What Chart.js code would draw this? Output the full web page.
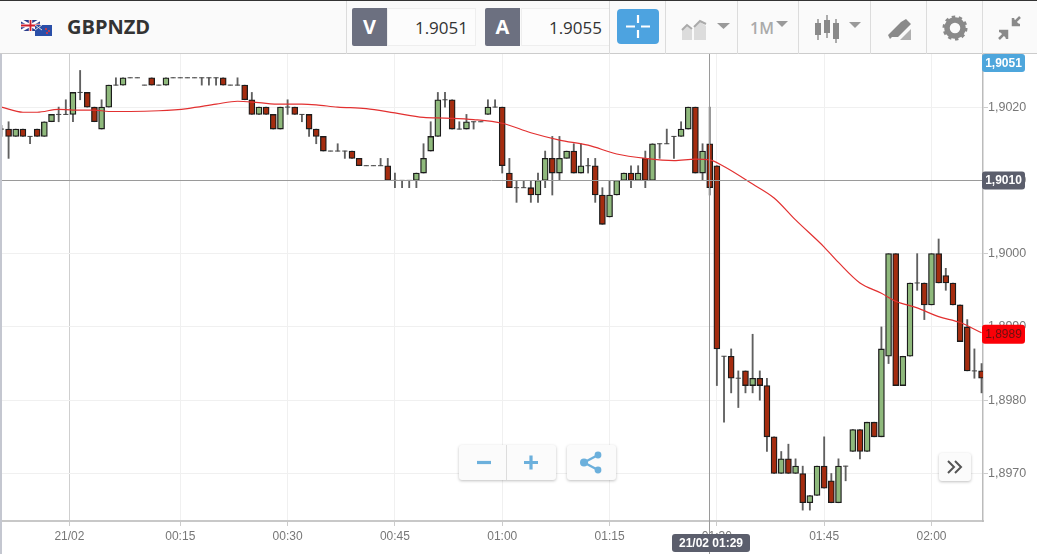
<!DOCTYPE html>
<html><head><meta charset="utf-8">
<script src="https://cdn.jsdelivr.net/npm/chart.js@4"></script>
<style>
html,body{margin:0;padding:0;background:#fff;width:1037px;height:554px;overflow:hidden;font-family:"Open Sans",sans-serif}
#c{position:absolute;left:0;top:0}
#bar{position:absolute;left:0;top:0;width:1037px;background:#fafafa;border-top:1px solid #333;border-bottom:1px solid #ccc;box-sizing:border-box;height:54px}
.sep{position:absolute;top:0;width:1px;height:53px;background:#dcdcdc}
.abs{position:absolute}
.sq{position:absolute;top:7px;width:35px;height:38px;background:#6c7080;color:#fff;font-weight:700;font-size:20px;line-height:38px;text-align:center;border-radius:2px 0 0 2px}
.val{position:absolute;top:7px;height:38px;line-height:38px;background:#fcfcfc;border:1px solid #eee;box-sizing:border-box;text-align:right;padding-right:7px;font-size:17px;color:#333}
.btn{position:absolute;background:#fbfbfb;border-radius:3px;box-shadow:0 1px 3px rgba(0,0,0,.25)}
#edge{position:absolute;left:0;top:54px;width:2px;height:500px;background:#c4c7d0}
</style></head><body>
<canvas id="c" width="1037" height="554"></canvas>
<div id="edge"></div>
<div id="bar">
  <svg class="abs" style="left:21px;top:18px" width="32" height="18" viewBox="0 0 32 18">
    <rect x="0" y="1" width="19" height="11" fill="#2c3e8c"/><path d="M0 1L19 12M19 1L0 12" stroke="#fff" stroke-width="2.4"/><path d="M9.5 1V12M0 6.5H19" stroke="#fff" stroke-width="3.4"/><path d="M9.5 1V12M0 6.5H19" stroke="#d0202c" stroke-width="1.8"/>
    <rect x="14" y="6" width="17" height="11" fill="#2a4fa8"/><circle cx="25" cy="10" r="1" fill="#e33"/><circle cx="28" cy="12" r="1" fill="#e33"/><circle cx="26" cy="14" r="1" fill="#e33"/><path d="M14 6L21 11M21 6L14 11" stroke="#ddd" stroke-width="1"/>
  </svg>
  <div class="abs" style="left:67px;top:12px;font-weight:700;font-size:20px;line-height:28px;color:#333;letter-spacing:0">GBPNZD</div>
  <div class="sep" style="left:346px"></div>
  <div class="sq" style="left:352px">V</div><div class="val" style="left:387px;width:89px">1.9051</div>
  <div class="sq" style="left:485px">A</div><div class="val" style="left:521px;width:89px">1.9055</div>
  <div class="sep" style="left:609px"></div>
  <div class="abs" style="left:617px;top:8px;width:42px;height:35px;background:#4da3e0;border-radius:4px"></div>
  <svg class="abs" style="left:617px;top:8px" width="42" height="35"><path d="M9 17.5H18M24 17.5H33M21 6V14M21 21V29" stroke="#fff" stroke-width="2.2"/></svg>
  <div class="sep" style="left:665px"></div>
  <svg class="abs" style="left:680px;top:15px" width="50" height="26"><path d="M2 24V14L7 10L12 14V24Z M14 24V12L20 6L26 10V24Z" fill="#dcdcdc"/><path d="M2 14L7 9L12 13M14 11L20 5L26 8" fill="none" stroke="#aaa" stroke-width="2"/><path d="M37 7H50L43.500 13Z" fill="#9a9a9a"/></svg>
  <div class="sep" style="left:737px"></div>
  <div class="abs" style="left:750px;top:16px;font-size:16px;font-weight:600;color:#aaa;line-height:22px">1M</div>
  <svg class="abs" style="left:775px;top:20px" width="14" height="8"><path d="M1 0H13L7 6Z" fill="#9a9a9a"/></svg>
  <div class="sep" style="left:798px"></div>
  <svg class="abs" style="left:813px;top:13px" width="50" height="30"><g fill="#8a8a8a"><rect x="2" y="9" width="6" height="12"/><rect x="4.300" y="5" width="1.400" height="21"/><rect x="11" y="6" width="6" height="13"/><rect x="13.300" y="1" width="1.400" height="23"/><rect x="20" y="9" width="6" height="16"/><rect x="22.300" y="5" width="1.400" height="24"/></g><path d="M36 8H48L42 14Z" fill="#9a9a9a"/></svg>
  <div class="sep" style="left:870px"></div>
  <svg class="abs" style="left:886px;top:16px" width="28" height="24"><path d="M2 18L15 5L20 2L25 7L12 20H6L4 22Z" fill="#8a8a8a"/><path d="M14 23L25 12V23Z" fill="#b0b0b0"/></svg>
  <div class="sep" style="left:926px"></div>
  <svg class="abs" style="left:942px;top:14px" width="26" height="26" viewBox="0 0 26 26"><circle cx="13" cy="13" r="8" fill="none" stroke="#8a8a8a" stroke-width="5.500"/><circle cx="13" cy="13" r="11" fill="none" stroke="#8a8a8a" stroke-width="3" stroke-dasharray="3.400 3.500"/></svg>
  <div class="sep" style="left:982px"></div>
  <svg class="abs" style="left:996px;top:14px" width="28" height="26"><path d="M24 2L17 9M17 3V10H24" stroke="#8a8a8a" stroke-width="2.500" fill="#8a8a8a"/><path d="M3 24L10 17M3 16H11V24" stroke="#8a8a8a" stroke-width="2.500" fill="#8a8a8a"/></svg>
</div>
<div class="btn" style="left:459px;top:445px;width:97px;height:35px"></div>
<div class="abs" style="left:506px;top:445px;width:1px;height:35px;background:#ddd"></div>
<svg class="abs" style="left:459px;top:445px" width="97" height="35"><path d="M18 17.500H32" stroke="#6cb0dc" stroke-width="3.200"/><path d="M65 17.500H79M72 10.500V24.500" stroke="#6cb0dc" stroke-width="3.200"/></svg>
<div class="btn" style="left:567px;top:445px;width:49px;height:35px"></div>
<svg class="abs" style="left:567px;top:445px" width="49" height="35"><path d="M17 17.500L31 10M17 17.500L31 25" stroke="#6cb0dc" stroke-width="2.400"/><circle cx="17" cy="17.500" r="4" fill="#6cb0dc"/><circle cx="31" cy="10" r="3.400" fill="#6cb0dc"/><circle cx="31" cy="25" r="3.400" fill="#6cb0dc"/></svg>
<div class="btn" style="left:939px;top:453px;width:32px;height:28px"></div>
<svg class="abs" style="left:939px;top:453px" width="32" height="28"><path d="M9 8L15 14L9 20M16 8L22 14L16 20" fill="none" stroke="#555" stroke-width="2"/></svg>
<script>
const minutes = [];
for (let m = -10; m <= 127; m++) minutes.push(m);
const opens = [
1.9017,1.9017,1.9016,1.9017,1.9016,1.9017,1.9016,1.9018,1.9019,1.9019,
1.9019,1.9022,1.9022,1.9020,1.9017,1.9020,1.9023,1.9023,1.9024,1.9024,
1.9023,1.9024,1.9023,1.9023,1.9024,1.9024,1.9024,1.9024,1.9024,1.9024,
1.9024,1.9024,1.9023,1.9023,1.9023,1.9021,1.9019,1.9020,1.9019,1.9017,
1.9020,1.9020,1.9019,1.9019,1.9017,1.9016,1.9014,1.9014,1.9014,1.9014,
1.9013,1.9012,1.9012,1.9012,1.9012,1.9010,1.9010,1.9010,1.9010,1.9011,
1.9014,1.9016,1.9021,1.9021,1.9017,1.9017,1.9018,1.9018,1.9019,1.9020,
1.9020,1.9011,1.9009,1.9009,1.9009,1.9008,1.9010,1.9013,1.9011,1.9013,
1.9014,1.9011,1.9012,1.9012,1.9008,1.9005,1.9008,1.9010,1.9011,1.9010,
1.9013,1.9010,1.9015,1.9015,1.9016,1.9016,1.9017,1.9020,1.9011,1.9015,
1.9012,1.8986,1.8986,1.8983,1.8984,1.8982,1.8983,1.8982,1.8975,1.8970,
1.8972,1.8970,1.8970,1.8966,1.8967,1.8971,1.8969,1.8966,1.8971,1.8973,
1.8976,1.8973,1.8977,1.8975,1.8986,1.9000,1.8982,1.8986,1.8996,1.8996,
1.8993,1.9000,1.8997,1.8996,1.8993,1.8990,1.8984,1.8984];
const closes = [
1.9017,1.9016,1.9017,1.9016,1.9016,1.9016,1.9018,1.9019,1.9019,1.9019,
1.9022,1.9022,1.9020,1.9018,1.9020,1.9023,1.9023,1.9024,1.9024,1.9024,
1.9023,1.9023,1.9023,1.9024,1.9024,1.9024,1.9024,1.9024,1.9024,1.9024,
1.9024,1.9023,1.9023,1.9023,1.9021,1.9019,1.9020,1.9019,1.9017,1.9020,
1.9020,1.9019,1.9019,1.9017,1.9016,1.9014,1.9014,1.9014,1.9014,1.9013,
1.9012,1.9012,1.9012,1.9012,1.9010,1.9010,1.9010,1.9010,1.9011,1.9013,
1.9016,1.9021,1.9021,1.9017,1.9017,1.9018,1.9018,1.9018,1.9020,1.9020,
1.9012,1.9009,1.9009,1.9009,1.9008,1.9010,1.9013,1.9011,1.9013,1.9014,
1.9011,1.9012,1.9012,1.9008,1.9004,1.9008,1.9010,1.9011,1.9010,1.9011,
1.9010,1.9015,1.9015,1.9015,1.9016,1.9017,1.9020,1.9011,1.9014,1.9009,
1.8987,1.8986,1.8983,1.8983,1.8982,1.8983,1.8982,1.8975,1.8970,1.8972,
1.8970,1.8971,1.8966,1.8967,1.8971,1.8968,1.8966,1.8971,1.8971,1.8976,
1.8973,1.8977,1.8975,1.8987,1.9000,1.8982,1.8986,1.8996,1.8996,1.8993,
1.9000,1.8996,1.8996,1.8993,1.8988,1.8984,1.8984,1.8983];
const highs = [
1.90175,1.9018,1.9017,1.9017,1.9016,1.9017,1.9018,1.9019,1.9020,1.9021,
1.9022,1.9025,1.9022,1.9020,1.9021,1.9023,1.9024,1.9024,1.9024,1.9024,
1.9023,1.9024,1.9023,1.9024,1.9024,1.9024,1.9024,1.9024,1.9024,1.9024,
1.9024,1.9024,1.9023,1.9024,1.9023,1.9022,1.9020,1.9020,1.9019,1.9020,
1.9021,1.9020,1.9019,1.9019,1.9017,1.9016,1.9014,1.9015,1.9014,1.9014,
1.9013,1.9012,1.9012,1.9013,1.9013,1.9011,1.9010,1.9010,1.9011,1.9015,
1.9018,1.9022,1.9022,1.9021,1.9018,1.9019,1.9018,1.9018,1.9021,1.9021,
1.9020,1.9013,1.9010,1.9010,1.9010,1.9011,1.9014,1.9016,1.9016,1.9014,
1.9015,1.9015,1.9013,1.9013,1.9009,1.9010,1.9010,1.9011,1.9012,1.9012,
1.9014,1.9015,1.9015,1.9017,1.9016,1.9018,1.9020,1.9020,1.9015,1.9020,
1.9012,1.8986,1.8987,1.8984,1.8984,1.8989,1.8984,1.8983,1.8975,1.8973,
1.8974,1.8972,1.8971,1.8967,1.8971,1.8975,1.8970,1.8972,1.8971,1.8976,
1.8976,1.8977,1.8977,1.8990,1.9000,1.9000,1.8986,1.8996,1.9000,1.8996,
1.9000,1.9002,1.8998,1.8996,1.8993,1.8991,1.8987,1.8985];
const lows = [
1.9016,1.9013,1.9016,1.9016,1.9015,1.9016,1.9016,1.9018,1.9018,1.9019,
1.9018,1.9021,1.9020,1.9018,1.9017,1.9020,1.9023,1.9023,1.9024,1.9024,
1.9023,1.9023,1.9023,1.9023,1.9024,1.9024,1.9024,1.9024,1.9023,1.9023,
1.9023,1.9023,1.9023,1.9023,1.9021,1.9019,1.9019,1.9019,1.9017,1.9017,
1.9019,1.9019,1.9018,1.9016,1.9015,1.9014,1.9014,1.9014,1.9013,1.9013,
1.9012,1.9012,1.9012,1.9012,1.9010,1.9009,1.9009,1.9009,1.9009,1.9011,
1.9014,1.9016,1.9020,1.9017,1.9017,1.9017,1.9017,1.9018,1.9019,1.9020,
1.9011,1.9009,1.9007,1.9009,1.9007,1.9007,1.9009,1.9008,1.9010,1.9013,
1.9011,1.9011,1.9011,1.9007,1.9004,1.9005,1.9008,1.9010,1.9009,1.9010,
1.9009,1.9010,1.9013,1.9015,1.9013,1.9016,1.9017,1.9011,1.9010,1.9008,
1.8982,1.8977,1.8981,1.8979,1.8981,1.8981,1.8980,1.8973,1.8970,1.8970,
1.8970,1.8970,1.8965,1.8965,1.8967,1.8968,1.8966,1.8966,1.8969,1.8973,
1.8972,1.8973,1.8975,1.8975,1.8985,1.8982,1.8982,1.8986,1.8995,1.8991,
1.8993,1.8996,1.8995,1.8993,1.8988,1.8984,1.8983,1.8981];
const maMinutes = [-10,-7,-5,-2,0,3,5,8,12,16,20,23,26,29,32,34,37,41,45,49,52,56,60,64,68,72,76,80,84,87,89,91,95,98,101,105,107,110,113,115,118,121,124,127];
const maValues = [1.90200,1.90193,1.90193,1.90197,1.90196,1.90196,1.90194,1.90194,1.90195,1.90198,1.90204,1.90208,1.90206,1.90204,1.90204,1.90203,1.90200,1.90198,1.90192,1.90186,1.90185,1.90183,1.90178,1.90165,1.90155,1.90148,1.90136,1.90130,1.90127,1.90129,1.90128,1.90119,1.90095,1.90076,1.90046,1.90009,1.89988,1.89960,1.89946,1.89935,1.89926,1.89914,1.89906,1.89892];
const yTicks = [1.9020,1.9010,1.9000,1.8990,1.8980,1.8970];
const xTickMinutes = [-0.5,15,30,45,60,75,90,105,120];
const xTickLabels = ['21/02','00:15','00:30','00:45','01:00','01:15','01:30','01:45','02:00'];
const bidTag = '1,9051', crossPrice = 1.9010, lastPrice = 1.8989, crossMinute = 89, crossTimeLabel = '21/02 01:29';

const isDoji = i => opens[i] === closes[i];
const idx = minutes.map((_, i) => i);
const comma = v => v.toFixed(4).replace('.', ',');
const noPad = s => { s.paddingLeft = s.paddingRight = s.paddingTop = s.paddingBottom = 0; };

const overlay = {
  id: 'overlay',
  afterDraw(chart) {
    const {ctx, scales: {x, y}, chartArea: a} = chart;
    ctx.save();
    ctx.strokeStyle = '#9a9a9a'; ctx.lineWidth = 1;
    const cx = Math.round(x.getPixelForValue(crossMinute)) - .5, cy = Math.round(y.getPixelForValue(crossPrice)) + .5;
    ctx.beginPath(); ctx.moveTo(cx, a.top); ctx.lineTo(cx, 554); ctx.moveTo(a.left, cy); ctx.lineTo(a.right, cy); ctx.stroke();
    const tag = (tx, ty, w, h, bg, fg, t, wt) => {
      ctx.fillStyle = bg; ctx.beginPath(); ctx.roundRect(tx, ty, w, h, 3); ctx.fill();
      ctx.fillStyle = fg; ctx.font = (wt || 'bold') + ' 12px "Liberation Sans"'; ctx.textAlign = 'center'; ctx.textBaseline = 'middle';
      ctx.fillText(t, tx + w / 2, ty + h / 2 + .5);
    };
    tag(982, 54, 43, 18, '#4ea6dc', '#fff', bidTag);
    tag(982, cy - 9, 43, 18, '#5b5e6c', '#fff', comma(crossPrice));
    tag(982, y.getPixelForValue(lastPrice) - 9.5, 43, 19, '#fb0007', '#6a1010', comma(lastPrice), 'normal');
    tag(672, 534, 78, 18, '#5b5e6c', '#fff', crossTimeLabel);
    ctx.restore();
  }
};

new Chart(document.getElementById('c'), {
  type: 'bar',
  data: { datasets: [
    { type: 'line', order: 0, data: maMinutes.map((m, i) => ({x: m, y: maValues[i]})), borderColor: '#e23030', borderWidth: 1.2, pointRadius: 0, tension: .35, cubicInterpolationMode: 'monotone', fill: false },
    { type: 'line', order: 1, showLine: false, data: idx.filter(isDoji).map(i => ({x: minutes[i], y: opens[i]})), pointStyle: 'line', pointRadius: 2.6, borderColor: '#444', pointBorderColor: '#444', pointBorderWidth: 1 },
    { order: 2, grouped: false, barThickness: 6, borderWidth: 1.3, borderSkipped: false, borderColor: '#1c1c1c',
      data: idx.filter(i => !isDoji(i)).map(i => ({x: minutes[i], y: [opens[i], closes[i]]})),
      backgroundColor: c => c.raw && c.raw.y[1] > c.raw.y[0] ? '#8fb97c' : '#a52c0f' },
    { order: 3, grouped: false, barThickness: 1.2, backgroundColor: '#606060', borderWidth: 0,
      data: idx.map(i => ({x: minutes[i], y: [lows[i], highs[i]]})) }
  ]},
  plugins: [overlay],
  options: {
    responsive: false, animation: false, devicePixelRatio: 1,
    layout: { autoPadding: false, padding: { top: 54, left: 0, right: 0, bottom: 0 } },
    plugins: { legend: { display: false }, tooltip: { enabled: false } },
    scales: {
      x: { type: 'linear', offset: false, min: -10.2, max: 127.2,
        afterBuildTicks: s => { s.ticks = xTickMinutes.map(v => ({value: v})); },
        afterFit: s => { s.height = 33; noPad(s); },
        grid: { offset: false, color: c => c.tick && c.tick.value < 0 ? '#cfcfcf' : '#f0f0f0', tickLength: 5, tickColor: '#ccc', drawOnChartArea: true },
        border: { color: '#c8c8c8', width: 2 },
        ticks: { autoSkip: false, maxRotation: 0, padding: 3, color: '#777', font: { family: '"Liberation Sans"', size: 12 },
          callback: (v) => { const k = xTickMinutes.indexOf(v); return k >= 0 ? xTickLabels[k] : ''; } } },
      y: { position: 'right', min: 1.8963515, max: 1.9027246,
        afterBuildTicks: s => { s.ticks = yTicks.map(v => ({value: v})); },
        afterFit: s => { s.width = 54; noPad(s); },
        grid: { color: '#f0f0f0', tickLength: 5, tickColor: '#ccc' },
        border: { color: '#bbb', width: 1.5 },
        ticks: { padding: 0, color: '#777', font: { family: '"Liberation Sans"', size: 12.5 }, callback: v => comma(v) } }
    }
  }
});
</script>
</body></html>
